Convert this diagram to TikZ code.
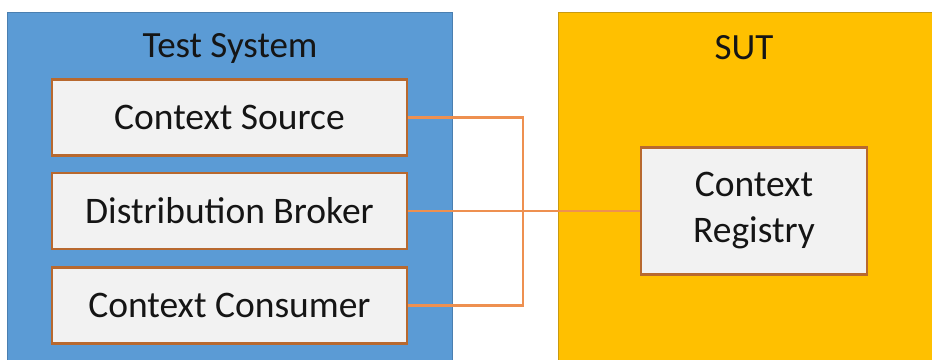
\documentclass[tikz,border=0pt]{standalone}
\usepackage{fontspec}
\setmainfont{Carlito}
\definecolor{tsblue}{HTML}{5B9BD5}
\definecolor{tsblueline}{HTML}{4A7FB0}
\definecolor{sutyellow}{HTML}{FFC000}
\definecolor{sutline}{HTML}{C99A10}
\definecolor{boxfill}{HTML}{F2F2F2}
\definecolor{boxline}{HTML}{B8692F}
\definecolor{connline}{HTML}{EE9050}
\definecolor{txt}{HTML}{151515}
\begin{document}
\begin{tikzpicture}[x=1pt,y=-1pt,
  container/.style={draw, line width=1pt, inner sep=0pt, anchor=north west},
  comp/.style={draw=boxline, fill=boxfill, line width=2.5pt, inner sep=0pt,
    minimum width=355pt, minimum height=76pt, font=\fontsize{37.5}{46}\selectfont, text=txt},
  title/.style={font=\fontsize{37}{46}\selectfont, text=txt, inner sep=0pt},
  conn/.style={draw=connline, line width=2.6pt}]
\clip (0,0) rectangle (932,359);
\fill[white] (0,0) rectangle (932,359);
\node[container, draw=tsblueline, fill=tsblue, minimum width=445pt, minimum height=370pt] (ts) at (7,12) {};
\node[container, draw=sutline, fill=sutyellow, minimum width=390pt, minimum height=370pt] (sut) at (558,12) {};
\node[title] (tst) at (230,48) {Test System};
\node[title] (sutt) at (744,48) {SUT};
\node[comp] (cs) at (229.5,117.5) {Context Source};
\node[comp] (db) at (229.5,211) {Distribution Broker};
\node[comp] (cc) at (229.5,305.5) {Context Consumer};
\node[comp, minimum width=226pt, minimum height=127pt, align=center] (reg) at (754,211) {\raisebox{-3pt}{Context}\\\raisebox{-3pt}{Registry}};
\coordinate (jb) at (523,305.5);
\draw[conn] (cs.east) -| (jb) -- (cc.east);
\draw[conn] (db.east) -- (reg.west);
\end{tikzpicture}
\end{document}
